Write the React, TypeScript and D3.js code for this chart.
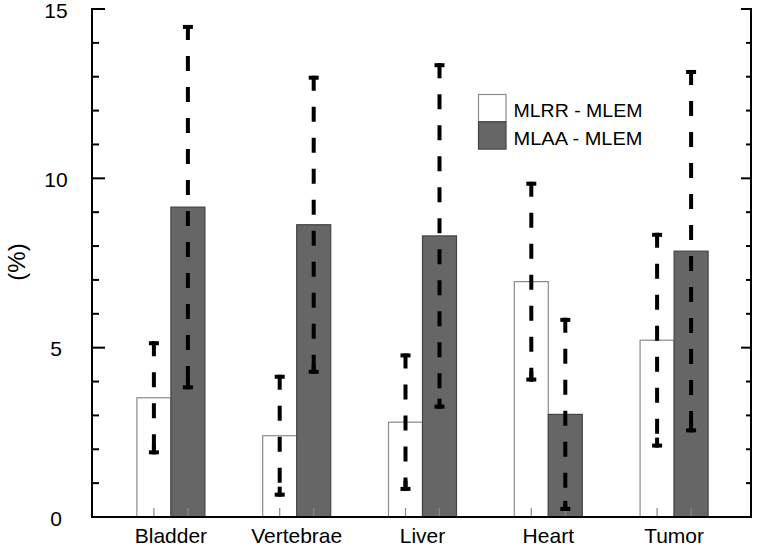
import React from "react";
import * as d3 from "d3";

const categories = ["Bladder", "Vertebrae", "Liver", "Heart", "Tumor"];
const mlrrValues = [3.52, 2.4, 2.8, 6.95, 5.22];
const mlrrErrors = [1.67, 1.8, 2.03, 2.95, 3.17];
const mlaaValues = [9.15, 8.63, 8.3, 3.03, 7.85];
const mlaaErrors = [5.38, 4.4, 5.1, 2.85, 5.35];
const seriesNames = ["MLRR - MLEM", "MLAA - MLEM"];
const majorTicks = [0, 5, 10, 15];
const minorTicks = d3.range(0, 16, 1);

const W = 757;
const H = 548;
const left = 92;
const right = 751;
const top = 9;
const bottom = 517;
const barW = 34;
const font = "Arial, 'Liberation Sans', Helvetica, sans-serif";

export default function App() {
  const x = d3.scaleBand<string>().domain(categories).range([108, 737]).padding(0);
  const y = d3.scaleLinear().domain([0, 15]).range([bottom, top]);

  const series = [
    { name: seriesNames[0], values: mlrrValues, errors: mlrrErrors, fill: "#ffffff", stroke: "#8a8a8a", offset: -barW },
    { name: seriesNames[1], values: mlaaValues, errors: mlaaErrors, fill: "#666666", stroke: "#444444", offset: 0 },
  ];

  const cx = (c: string) => (x(c) as number) + x.bandwidth() / 2;

  return (
    <svg width={W} height={H} style={{ position: "absolute", left: 0, top: 0, background: "#fff" }} fontFamily={font}>
      {/* bars */}
      {series.map((s, si) =>
        categories.map((c, i) => (
          <rect
            key={`b${si}-${i}`}
            x={cx(c) + s.offset}
            y={y(s.values[i])}
            width={barW}
            height={bottom - y(s.values[i])}
            fill={s.fill}
            stroke={s.stroke}
            strokeWidth={1.2}
          />
        ))
      )}
      {/* bottom ticks at bar centres */}
      {series.map((s, si) =>
        categories.map((c, i) => {
          const bx = cx(c) + s.offset + barW / 2;
          return <line key={`t${si}-${i}`} x1={bx} x2={bx} y1={bottom} y2={bottom - 9} stroke="#888" strokeWidth={1.2} />;
        })
      )}
      {/* error bars */}
      {series.map((s, si) =>
        categories.map((c, i) => {
          const bx = cx(c) + s.offset + barW / 2;
          const yt = y(s.values[i] + s.errors[i]);
          const yb = y(s.values[i] - s.errors[i]);
          return (
            <g key={`e${si}-${i}`} stroke="#000" strokeWidth={4}>
              <line x1={bx} x2={bx} y1={yt} y2={yb} strokeDasharray="15,16" />
              <line x1={bx - 5} x2={bx + 5} y1={yt + 2} y2={yt + 2} />
              <line x1={bx} x2={bx} y1={yb} y2={yb - 10} />
              <line x1={bx - 5} x2={bx + 5} y1={yb - 2} y2={yb - 2} />
            </g>
          );
        })
      )}
      {/* axes */}
      <g stroke="#000" strokeWidth={2} fill="none">
        <line x1={left} x2={left} y1={top - 1} y2={bottom + 1} />
        <line x1={right} x2={right} y1={top - 1} y2={bottom + 1} />
        <line x1={left - 1} x2={right + 1} y1={bottom} y2={bottom} />
        {minorTicks.map((t) => {
          const major = majorTicks.includes(t);
          return (
            <g key={`mt${t}`}>
              <line x1={left} x2={left + (major ? 13 : 7)} y1={y(t)} y2={y(t)} />
              <line x1={right} x2={right - (major ? 10 : 5)} y1={y(t)} y2={y(t)} />
            </g>
          );
        })}
      </g>
      {majorTicks.map((t) => (
        <text key={`l${t}`} x={56} y={y(t) + 8.5} textAnchor="middle" fontSize={21} fill="#000">
          {t}
        </text>
      ))}
      {categories.map((c) => (
        <text key={`c${c}`} x={cx(c)} y={543} textAnchor="middle" fontSize={21} fill="#000">
          {c}
        </text>
      ))}
      <text transform={`translate(25,${262}) rotate(-90)`} textAnchor="middle" fontSize={24} fill="#000">
        (%)
      </text>
      {/* legend */}
      {series.map((s, si) => (
        <g key={`lg${si}`}>
          <rect x={478.5} y={94.5 + si * 27.3} width={27.5} height={27.3} fill={s.fill} stroke={s.stroke} strokeWidth={1.2} />
          <text
            x={513.5}
            y={116.7 + si * 28.3}
            fontSize={18}
            fill="#000"
            textLength={129}
            lengthAdjust="spacingAndGlyphs"
          >
            {s.name}
          </text>
        </g>
      ))}
    </svg>
  );
}
